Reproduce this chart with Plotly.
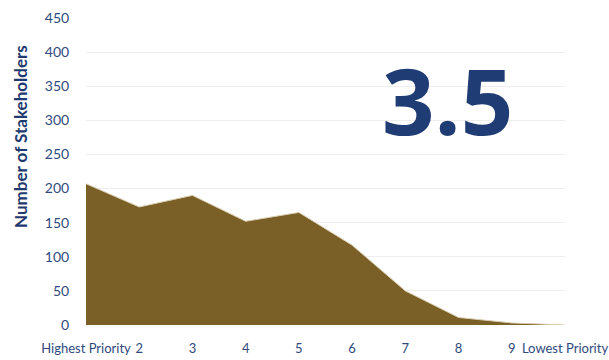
import plotly.graph_objects as go

categories = ["Highest Priority", "2", "3", "4", "5", "6", "7", "8", "9", "Lowest Priority"]
stakeholders = [207, 173, 190, 152, 165, 117, 50, 11, 3, 0]
y_ticks = [0, 50, 100, 150, 200, 250, 300, 350, 400, 450]
big_label = "3.5"

x_idx = list(range(len(categories)))

fig = go.Figure()
fig.add_trace(go.Scatter(
    x=x_idx, y=stakeholders, mode="lines", fill="tozeroy",
    fillcolor="#7A5F27", line=dict(color="#D9CDB0", width=1),
    hoverinfo="skip", showlegend=False,
))

navy = "#2F4A7E"
fig.update_layout(
    width=609, height=360,
    margin=dict(l=86, r=44, t=18, b=35),
    paper_bgcolor="white", plot_bgcolor="white",
    font=dict(family="Lato, sans-serif", size=14, color=navy),
    xaxis=dict(
        tickmode="array", tickvals=x_idx, ticktext=categories,
        range=[0, len(categories) - 1], showgrid=False, zeroline=False,
        showline=False, ticks="outside", ticklen=11, tickcolor="rgba(0,0,0,0)",
        tickangle=0, automargin=False, tickfont=dict(size=13),
        fixedrange=True,
    ),
    yaxis=dict(
        tickmode="array", tickvals=y_ticks, range=[0, 450],
        showgrid=True, gridcolor="#EEEEEE", gridwidth=1, zeroline=False,
        showline=False, ticks="outside", ticklen=13, tickcolor="rgba(0,0,0,0)",
        automargin=False, fixedrange=True,
    ),
    annotations=[
        dict(text="<b>Number of Stakeholders</b>", textangle=-90,
             xref="paper", yref="paper", x=(20 - 86) / 479, y=(325 - 137) / 307,
             xanchor="center", yanchor="middle", showarrow=False,
             font=dict(family="Lato, sans-serif", size=17, color="#1F3A6E")),
        dict(text="<b>" + big_label + "</b>", xref="paper", yref="paper",
             x=(447 - 86) / 479, y=(325 - 99) / 307,
             xanchor="center", yanchor="middle", showarrow=False,
             font=dict(family="Open Sans, sans-serif", size=92, color="#1F3C74")),
    ],
)

fig.write_html("out.html")
